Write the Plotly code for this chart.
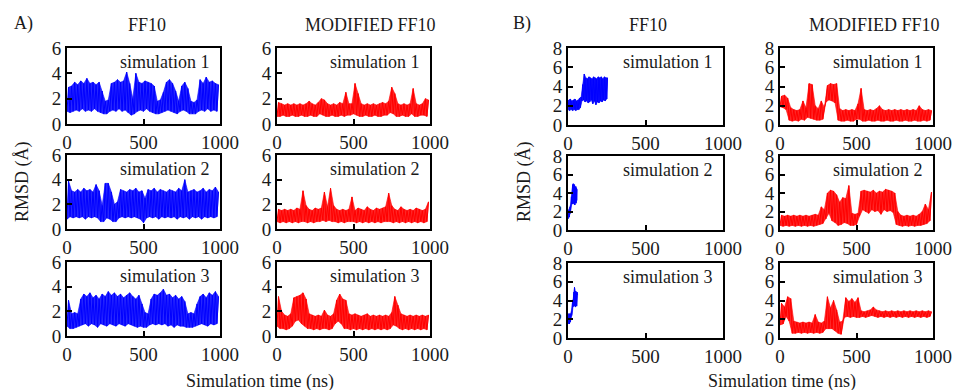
import plotly.graph_objects as go

# ---------------- data (RMSD envelopes) ----------------
# A panels: 20 ns windows, lower and upper edge of the RMSD cloud (Å)
T_A = list(range(0, 1000, 20))
STEP_A = 20

A_FF10_S1_LO = [1.0,0.9,1.0,1.1,1.0,1.2,1.0,1.1,1.0,1.2,1.0,0.9,0.8,0.8,1.0,1.1,1.0,1.2,1.0,1.1,
                0.9,0.7,0.8,1.0,1.1,1.0,1.2,1.0,0.9,0.8,0.8,0.9,1.0,1.1,1.0,0.9,0.8,1.0,1.1,1.0,
                0.8,0.8,0.8,1.0,1.1,1.0,1.2,1.0,1.1,1.0]
A_FF10_S1_HI = [2.9,3.0,3.3,3.1,3.4,3.2,3.6,3.2,3.3,3.1,3.3,2.6,1.8,1.9,3.2,3.3,3.5,3.3,3.4,4.1,
                3.2,2.0,4.0,3.3,3.2,3.4,3.3,3.2,3.0,1.8,1.9,2.5,3.3,3.5,3.2,2.6,1.8,3.0,3.3,2.8,
                1.8,1.7,1.9,3.5,3.2,3.7,3.3,3.4,3.2,3.1]

A_FF10_S2_LO = [0.8,1.0,0.9,1.0,0.9,1.0,0.8,1.0,0.9,1.0,0.9,0.6,0.6,0.9,0.8,0.6,0.6,0.9,1.0,0.9,
                1.0,0.9,1.0,0.9,0.8,0.5,0.9,1.0,0.9,1.0,0.8,1.0,0.9,1.0,0.9,1.0,0.8,1.0,0.9,1.0,
                0.8,1.0,0.9,1.0,0.8,1.0,0.9,1.0,0.9,1.0]
A_FF10_S2_HI = [3.9,3.1,3.0,3.2,3.0,3.3,3.1,3.2,3.0,3.6,3.1,1.9,3.7,3.7,3.0,2.0,2.2,3.2,3.1,3.0,
                3.2,3.1,3.3,3.0,3.1,2.5,3.2,3.1,3.3,3.0,3.2,3.1,3.0,3.2,3.1,3.0,3.3,3.1,4.0,3.0,
                3.1,3.2,3.0,3.1,3.3,3.0,3.2,3.1,3.4,3.0]

A_FF10_S3_LO = [0.8,0.6,0.6,0.7,0.8,0.9,1.0,0.8,1.0,0.9,0.7,1.0,0.9,0.8,1.0,0.9,0.8,1.0,0.9,0.8,
                1.0,0.9,0.8,0.7,0.8,0.7,0.7,0.9,1.0,0.9,1.0,0.9,1.0,0.8,0.9,0.7,0.9,0.8,0.8,0.7,
                0.7,0.7,0.8,0.9,1.0,0.9,0.8,1.0,0.9,1.0]
A_FF10_S3_HI = [2.9,1.8,1.9,1.8,3.0,3.4,3.2,3.5,3.1,3.3,3.0,3.4,3.2,3.6,3.3,3.5,3.2,3.4,3.1,3.3,
                3.5,3.2,3.0,3.3,2.6,1.9,1.8,3.0,3.4,3.3,3.5,3.8,3.3,3.4,3.1,3.3,3.0,3.2,2.8,1.8,
                1.9,1.8,2.6,3.2,3.4,3.1,3.5,3.3,3.6,3.2]

A_MOD_S1_LO = [0.6,0.6,0.7,0.6,0.6,0.7,0.6,0.6,0.7,0.6,0.6,0.7,0.6,0.6,0.8,0.7,0.6,0.6,0.7,0.6,
               0.6,0.7,0.6,0.7,0.7,0.8,0.7,0.6,0.6,0.7,0.6,0.6,0.7,0.6,0.6,0.7,0.7,0.9,0.8,0.6,
               0.6,0.7,0.6,0.6,0.8,0.6,0.6,0.7,0.7,0.6]
A_MOD_S1_HI = [1.7,1.6,1.5,1.6,1.5,1.6,1.5,1.6,1.5,1.6,1.8,1.6,1.5,1.7,2.0,1.9,1.6,1.5,1.6,1.5,
               1.7,1.6,2.5,1.6,1.6,3.2,2.4,1.6,1.5,1.6,1.5,1.6,1.5,1.6,1.7,1.6,1.8,2.9,2.4,1.6,
               1.5,1.6,1.5,1.6,2.8,1.6,1.5,1.6,2.0,1.9]

A_MOD_S2_LO = [0.6,0.5,0.6,0.5,0.6,0.5,0.6,0.5,0.6,0.6,0.5,0.6,0.5,0.6,0.6,0.7,0.6,0.7,0.6,0.6,
               0.5,0.6,0.5,0.6,0.6,0.6,0.5,0.6,0.5,0.6,0.5,0.6,0.5,0.6,0.5,0.6,0.6,0.6,0.5,0.6,
               0.5,0.6,0.5,0.6,0.5,0.6,0.5,0.6,0.5,0.6]
A_MOD_S2_HI = [1.6,1.5,1.6,1.5,1.6,1.5,1.7,1.6,3.1,1.9,1.6,1.5,1.7,1.6,1.7,3.0,1.8,3.3,1.9,1.6,
               1.5,1.6,1.5,1.6,2.6,1.5,1.7,1.6,1.5,1.8,1.6,1.5,1.7,1.6,1.7,1.8,2.9,1.9,1.6,1.5,
               1.8,1.6,1.5,1.6,1.5,1.7,1.6,1.5,1.6,2.2]

A_MOD_S3_LO = [0.8,0.6,0.6,0.5,0.6,0.8,1.2,1.3,1.0,0.8,0.6,0.6,0.5,0.6,0.5,0.6,0.6,0.5,0.6,1.0,
               1.2,1.0,0.6,0.6,0.5,0.6,0.5,0.6,0.5,0.6,0.5,0.6,0.5,0.6,0.5,0.6,0.5,0.6,0.9,0.8,
               0.6,0.5,0.6,0.5,0.6,0.5,0.6,0.5,0.6,0.5]
A_MOD_S3_HI = [3.2,2.0,1.7,1.6,1.8,3.1,3.2,3.3,3.5,3.0,1.8,1.7,1.6,1.7,1.6,2.1,1.7,1.6,1.8,2.9,
               3.4,3.0,2.9,1.8,1.7,1.8,1.7,1.6,1.7,1.8,1.6,1.7,1.6,1.7,1.6,1.7,1.6,1.9,3.2,2.5,
               1.8,1.7,1.6,1.7,1.6,1.7,1.6,1.7,1.6,1.7]

# B panels
T_B1 = list(range(0, 260, 10))
STEP_B1 = 10
B_FF10_S1_LO = [1.6,1.5,1.6,1.5,1.6,1.5,1.6,1.6,1.8,2.5,2.6,2.4,2.5,2.3,2.4,2.6,2.2,2.5,2.1,2.4,
                2.3,2.5,2.4,2.6,2.5,2.7]
B_FF10_S1_HI = [2.6,2.7,2.5,2.6,2.7,2.5,2.6,2.8,2.9,4.2,5.3,4.9,4.8,5.0,4.9,4.8,5.0,4.9,4.8,5.0,
                4.9,5.0,4.8,5.0,4.9,4.9]

T_B2 = list(range(0, 60, 4))
STEP_B2 = 4
B_FF10_S2_LO = [1.2,1.3,1.4,1.5,1.8,2.3,2.8,3.0,2.8,3.0,2.9,2.7,3.0,2.9,3.2]
B_FF10_S2_HI = [2.0,2.2,2.4,2.5,2.8,3.6,4.5,4.9,5.0,4.8,4.9,4.6,4.7,4.5,4.4]

T_B3 = list(range(0, 64, 4))
STEP_B3 = 4
B_FF10_S3_LO = [1.5,1.6,1.5,1.6,1.7,1.9,2.4,2.7,3.3,3.5,3.4,3.6,3.3,3.5,3.4,3.6]
B_FF10_S3_HI = [2.5,2.6,2.4,2.6,2.5,2.8,3.3,4.0,4.2,4.9,5.4,4.8,5.0,4.7,4.9,4.6]

B_MOD_S1_LO = [1.9,1.8,1.6,0.5,0.4,0.5,0.4,0.6,0.5,0.8,0.7,0.6,0.5,0.5,0.6,2.4,2.6,2.5,2.3,0.5,
               0.4,0.4,0.5,0.4,0.4,0.6,0.6,0.4,0.4,0.5,0.4,0.4,0.5,0.4,0.4,0.5,0.4,0.4,0.5,0.4,
               0.4,0.5,0.4,0.4,0.5,0.4,0.4,0.5,0.4,0.5]
B_MOD_S1_HI = [3.0,3.1,2.8,1.8,1.6,1.5,1.6,2.5,1.8,4.3,4.2,2.0,1.7,2.5,1.8,4.1,4.3,4.2,4.3,1.7,
               1.5,1.6,1.5,1.6,1.5,2.2,3.8,1.6,1.5,1.6,1.5,1.7,2.0,1.6,1.5,1.6,1.5,1.6,1.5,1.6,
               1.5,1.6,1.5,1.6,1.5,2.0,1.6,1.5,1.6,1.5]

B_MOD_S2_LO = [0.5,0.4,0.5,0.4,0.5,0.4,0.5,0.4,0.5,0.4,0.5,0.4,0.5,0.6,0.7,1.2,1.8,1.0,0.8,0.5,
               0.6,0.8,0.7,0.5,0.5,0.6,1.5,2.2,2.0,1.8,2.2,2.0,2.1,1.7,2.2,2.0,2.1,1.9,0.6,0.5,
               0.4,0.5,0.4,0.5,0.4,0.5,0.5,0.6,0.7,1.0]
B_MOD_S2_HI = [1.6,1.5,1.6,1.5,1.6,1.5,1.6,1.5,1.6,1.5,1.6,1.7,1.6,2.5,2.2,4.0,4.3,4.2,3.8,3.0,
               3.5,3.4,4.8,1.8,1.7,1.8,4.2,4.3,4.2,4.1,4.3,4.0,4.2,4.1,4.4,4.3,4.2,4.0,2.0,1.6,
               1.5,1.6,1.5,1.6,1.5,1.7,2.0,2.8,2.2,4.1]

B_MOD_S3_LO = [1.4,1.5,2.3,1.8,0.5,0.5,0.6,0.5,0.6,0.5,0.6,0.5,0.6,0.5,0.6,1.0,1.0,1.0,0.8,0.5,
               0.4,2.2,2.3,2.2,2.3,2.2,2.2,2.3,2.2,2.3,2.4,2.3,2.2,2.3,2.2,2.3,2.2,2.3,2.2,2.3,
               2.2,2.3,2.2,2.3,2.2,2.3,2.2,2.3,2.2,2.3]
B_MOD_S3_HI = [3.7,3.3,4.4,4.2,1.8,1.7,1.6,1.7,1.6,1.7,1.6,2.5,1.7,1.6,1.8,4.4,3.2,4.0,3.0,1.7,
               1.8,4.3,3.9,4.2,3.8,4.3,2.9,2.8,2.9,3.0,3.3,3.0,2.9,2.8,2.9,2.8,2.9,2.8,2.9,2.8,
               2.9,2.8,2.9,2.8,2.9,2.8,2.9,2.8,2.9,2.8]

SIM_LABELS = ["simulation 1", "simulation 2", "simulation 3"]
COL_TITLES = ["FF10", "MODIFIED FF10", "FF10", "MODIFIED FF10"]
PANEL_LABELS = ["A)", "B)"]
X_TICKS = [0, 500, 1000]
Y_TICKS_A = [0, 2, 4, 6]
Y_TICKS_B = [0, 2, 4, 6, 8]
X_TITLE = "Simulation time (ns)"
Y_TITLE = "RMSD (Å)"

# ---------------- layout geometry (pixels) ----------------
W, H = 961, 390
BLUE, RED = "#0000ff", "#ff0000"
BLUE_F, RED_F = "rgba(0,0,255,0.85)", "rgba(255,0,0,0.85)"
FONT = "Liberation Serif, Times New Roman, serif"
TXT = "#1a1a1a"

COLS = [(67, 220), (277, 430), (568, 723), (780, 933)]
ROWS_A = [(48, 124), (155, 229), (262, 336)]
ROWS_B = [(48, 125), (156, 230), (263, 338)]

panels = [
    # (col, row, times, step, lo, hi, color, fill)
    (0, 0, T_A, STEP_A, A_FF10_S1_LO, A_FF10_S1_HI, BLUE, BLUE_F),
    (0, 1, T_A, STEP_A, A_FF10_S2_LO, A_FF10_S2_HI, BLUE, BLUE_F),
    (0, 2, T_A, STEP_A, A_FF10_S3_LO, A_FF10_S3_HI, BLUE, BLUE_F),
    (1, 0, T_A, STEP_A, A_MOD_S1_LO, A_MOD_S1_HI, RED, RED_F),
    (1, 1, T_A, STEP_A, A_MOD_S2_LO, A_MOD_S2_HI, RED, RED_F),
    (1, 2, T_A, STEP_A, A_MOD_S3_LO, A_MOD_S3_HI, RED, RED_F),
    (2, 0, T_B1, STEP_B1, B_FF10_S1_LO, B_FF10_S1_HI, BLUE, BLUE_F),
    (2, 1, T_B2, STEP_B2, B_FF10_S2_LO, B_FF10_S2_HI, BLUE, BLUE_F),
    (2, 2, T_B3, STEP_B3, B_FF10_S3_LO, B_FF10_S3_HI, BLUE, BLUE_F),
    (3, 0, T_A, STEP_A, B_MOD_S1_LO, B_MOD_S1_HI, RED, RED_F),
    (3, 1, T_A, STEP_A, B_MOD_S2_LO, B_MOD_S2_HI, RED, RED_F),
    (3, 2, T_A, STEP_A, B_MOD_S3_LO, B_MOD_S3_HI, RED, RED_F),
]

fig = go.Figure()
layout = {}
annotations = []

for k, (c, r, times, step, lo, hi, color, fillc) in enumerate(panels, start=1):
    rows = ROWS_A if c < 2 else ROWS_B
    x0, x1 = COLS[c]
    y0, y1 = rows[r]
    sfx = "" if k == 1 else str(k)
    # envelope band: upper edge forward, lower edge back
    xs = [t + step / 2 for t in times] + [t for t in reversed(times)]
    ys = list(hi) + list(reversed(lo))
    fig.add_trace(go.Scatter(x=xs, y=ys, mode="lines", fill="toself",
                             fillcolor=fillc, line=dict(color=color, width=0.6),
                             xaxis="x" + sfx, yaxis="y" + sfx,
                             showlegend=False, hoverinfo="skip"))
    # zig-zag trace through the same samples (cloud texture)
    zx, zy = [], []
    for i, t in enumerate(times):
        zx += [t, t + step / 2]
        zy += [lo[i], hi[i]]
    fig.add_trace(go.Scatter(x=zx, y=zy, mode="lines",
                             line=dict(color=color, width=1),
                             xaxis="x" + sfx, yaxis="y" + sfx,
                             showlegend=False, hoverinfo="skip"))
    yt = Y_TICKS_A if c < 2 else Y_TICKS_B
    axcommon = dict(showline=True, linewidth=2, linecolor="black", mirror=True,
                    ticks="inside", ticklen=5, tickwidth=2, tickcolor="black",
                    showgrid=False, zeroline=False, automargin=False,
                    tickfont=dict(family=FONT, size=19, color=TXT))
    layout["xaxis" + sfx] = dict(domain=[x0 / W, x1 / W], anchor="y" + sfx,
                                 range=[0, 1000], tickvals=X_TICKS, **axcommon)
    layout["yaxis" + sfx] = dict(domain=[1 - y1 / H, 1 - y0 / H], anchor="x" + sfx,
                                 range=[0, yt[-1]], tickvals=yt, **axcommon)
    annotations.append(dict(text=SIM_LABELS[r], xref="paper", yref="paper",
                            x=(x1 - 8) / W, y=1 - (y0 + 14) / H,
                            xanchor="right", yanchor="middle", showarrow=False,
                            font=dict(family=FONT, size=18, color=TXT)))

def ann(text, x, y, angle=0, xanchor="center"):
    annotations.append(dict(text=text, xref="paper", yref="paper",
                            x=x / W, y=1 - y / H, xanchor=xanchor, yanchor="middle",
                            showarrow=False, textangle=angle,
                            font=dict(family=FONT, size=18, color=TXT)))

ann(PANEL_LABELS[0], 12, 23, xanchor="left")
ann(PANEL_LABELS[1], 511, 23, xanchor="left")
ann(COL_TITLES[0], 147, 25)
ann(COL_TITLES[1], 370, 25)
ann(COL_TITLES[2], 648, 25)
ann(COL_TITLES[3], 874, 25)
ann(Y_TITLE, 22, 182, angle=-90)
ann(Y_TITLE, 524, 182, angle=-90)
ann(X_TITLE, 260, 381)
ann(X_TITLE, 782, 381)

fig.update_layout(width=W, height=H,
                  margin=dict(l=0, r=0, t=0, b=0, pad=0, autoexpand=False),
                  paper_bgcolor="white", plot_bgcolor="white",
                  hovermode=False,
                  annotations=annotations, **layout)
fig.write_html("out.html",
               config={"displayModeBar": False, "staticPlot": True},
               post_script="document.body.style.margin='0px';"
                           "document.body.style.overflow='hidden';")
